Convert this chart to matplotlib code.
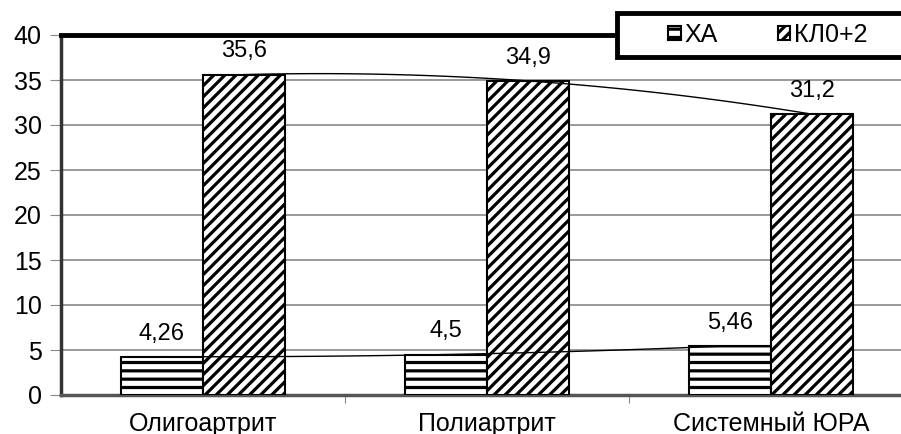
import matplotlib
matplotlib.use("Agg")
from matplotlib import pyplot as plt
from matplotlib.patches import Rectangle
import numpy as np

categories = ['Олигоартрит', 'Полиартрит', 'Системный ЮРА']
xa_values = [4.26, 4.5, 5.46]
kl_values = [35.6, 34.9, 31.2]
xa_labels = ['4,26', '4,5', '5,46']
kl_labels = ['35,6', '34,9', '31,2']
y_ticks = [0, 5, 10, 15, 20, 25, 30, 35, 40]

plt.rcParams['font.family'] = ['Liberation Sans', 'DejaVu Sans']
plt.rcParams['hatch.linewidth'] = 2.3
plt.rcParams['hatch.color'] = 'black'

fig = plt.figure(figsize=(9.01, 4.34), dpi=100)
ax = fig.add_axes([61 / 901, 39 / 434, 840 / 901, 360 / 434])

x = np.arange(len(categories))
w = 0.289

ax.bar(x - w / 2, xa_values, w, color='white', edgecolor='black',
       linewidth=1.5, hatch='--', label='ХА', zorder=3)
ax.bar(x + w / 2, kl_values, w, color='white', edgecolor='black',
       linewidth=1.5, hatch='///', label='КЛ0+2', zorder=3)

# smooth trend lines through the bar tops
for xpos, vals in [(x - w / 2, xa_values), (x + w / 2, kl_values)]:
    c = np.polyfit(xpos, vals, 2)
    xs = np.linspace(xpos[0], xpos[-1], 100)
    ax.plot(xs, np.polyval(c, xs), color='black', linewidth=1.0, zorder=4)

for i in range(len(categories)):
    ax.text(x[i] - w / 2, xa_values[i] + 1.9, xa_labels[i], ha='center',
            va='baseline', fontsize=17)
    ax.text(x[i] + w / 2, kl_values[i] + 1.9, kl_labels[i], ha='center',
            va='baseline', fontsize=17)

ax.set_ylim(0, 40)
ax.set_xlim(-0.5, -0.5 + 840 / 284)
ax.set_yticks(y_ticks)
ax.set_yticklabels([str(t) for t in y_ticks], fontsize=18)
ax.tick_params(axis='y', length=8, color='#888888', pad=6)

ax.set_xticks([0.5, 1.5])
ax.set_xticklabels(['', ''])
ax.set_xticks(x, minor=True)
ax.set_xticklabels(categories, minor=True, fontsize=18)
ax.tick_params(axis='x', which='major', length=6, color='#888888')
ax.tick_params(axis='x', which='minor', length=0, pad=12)

ax.grid(axis='y', color='#888888', linewidth=1.2, zorder=0)
ax.set_axisbelow(True)

ax.spines['right'].set_visible(False)
ax.spines['top'].set_linewidth(3.5)
ax.spines['top'].set_color('black')
ax.spines['left'].set_linewidth(2.5)
ax.spines['left'].set_color('#333333')
ax.spines['bottom'].set_linewidth(2.5)
ax.spines['bottom'].set_color('#555555')

# legend box sticking out past the right edge
box = Rectangle((617 / 901, 1 - 57 / 434), 300 / 901, 44 / 434,
                transform=fig.transFigure, facecolor='white',
                edgecolor='black', linewidth=3.5, zorder=9)
fig.patches.append(box)

leg = fig.legend(loc='center left', bbox_to_anchor=(668 / 901, 1 - 35 / 434),
                 ncol=2, fontsize=18, frameon=False,
                 handlelength=0.5, handleheight=0.5, handletextpad=0.15,
                 columnspacing=2.4, borderpad=0, borderaxespad=0)
leg.set_zorder(10)

fig.savefig('out.png', dpi=100)
